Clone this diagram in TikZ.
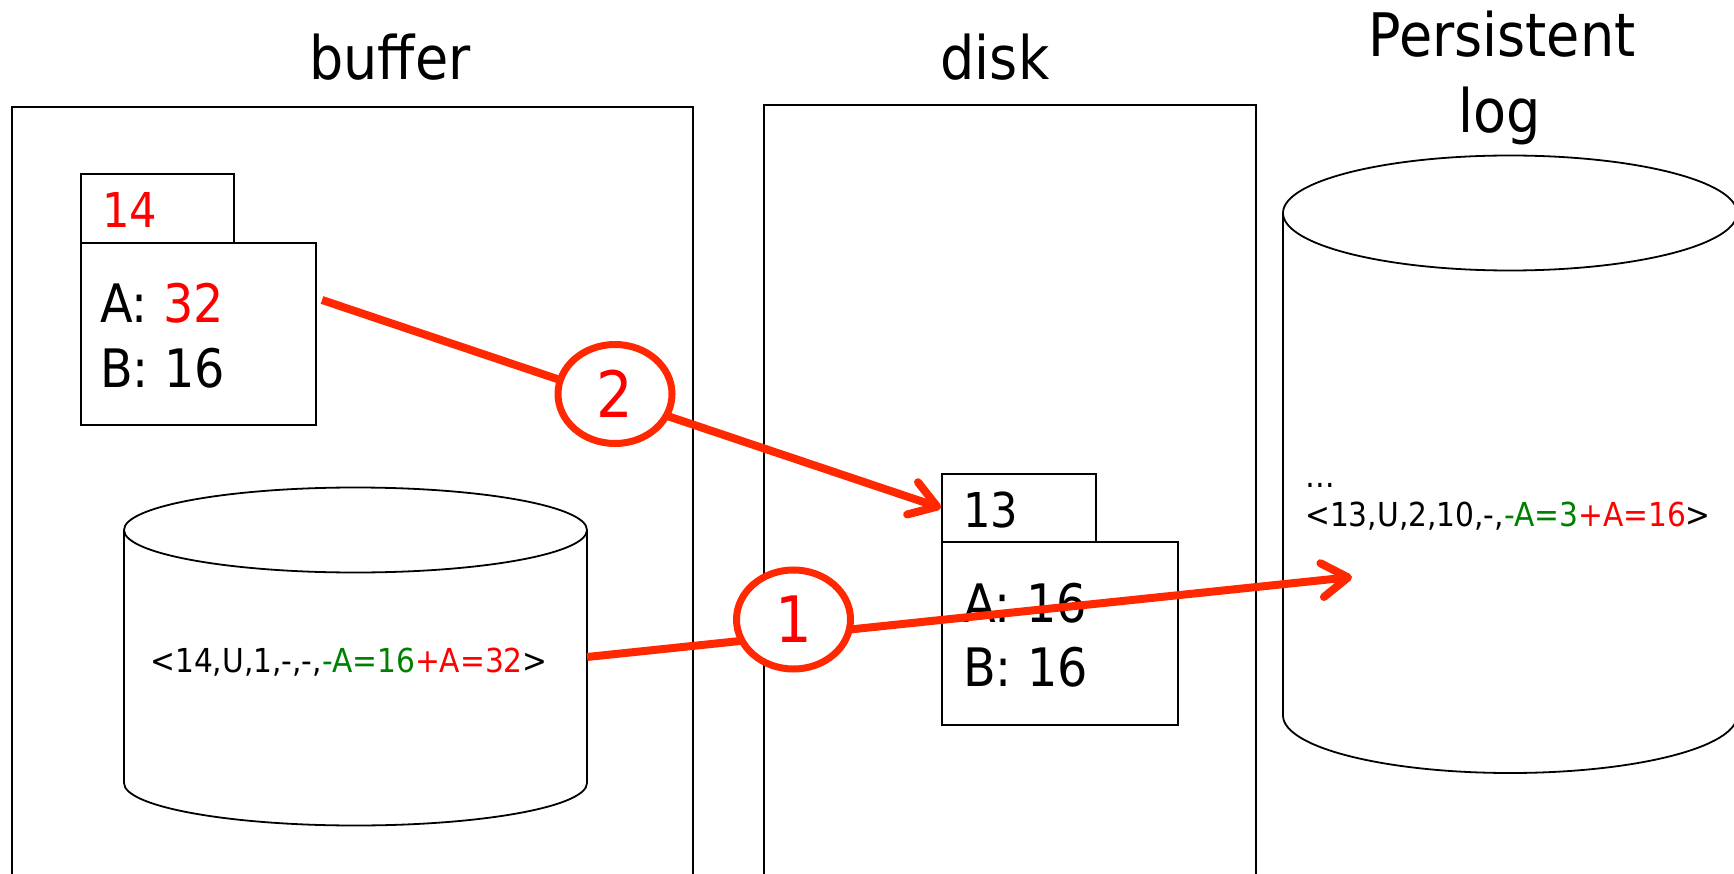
\documentclass[tikz,border=0pt]{standalone}
\usepackage{fontspec}
\setmainfont{DejaVu Sans Condensed}
\usetikzlibrary{arrows.meta,shapes.geometric}
\definecolor{arrowred}{RGB}{255,40,0}
\definecolor{txtred}{RGB}{255,0,0}
\definecolor{txtgreen}{RGB}{0,128,0}
\begin{document}
\begin{tikzpicture}[x=1pt,y=-1pt,
  box/.style={draw=black, line width=1.8pt, anchor=north west, inner sep=0pt},
  title/.style={font=\fontsize{60}{72}\selectfont, anchor=base, inner sep=0pt},
  val/.style={font=\fontsize{53}{64}\selectfont, anchor=base west, inner sep=0pt},
  tabtxt/.style={font=\fontsize{48}{58}\selectfont, anchor=base west, inner sep=0pt},
  logtxt/.style={font=\fontsize{33}{40}\selectfont, anchor=base west, inner sep=0pt},
  cyl/.style={draw=black, line width=1.8pt},
  flow/.style={draw=arrowred, line width=8pt, -{Straight Barb[length=26pt,width=34pt,round]}},
  stepmark/.style={ellipse, draw=arrowred, line width=7pt, fill=white, minimum width=114pt, minimum height=99pt, inner sep=0pt, text=txtred, font=\fontsize{64}{70}\selectfont}
]
\clip (0,0) rectangle (1734,874);
\fill[white] (0,0) rectangle (1734,874);

% titles
\node[title] (tbuf) at (390,80) {buffer};
\node[title] (tdisk) at (995,80) {disk};
\node[title] (tlog1) at (1502,57) {Persistent};
\node[title] (tlog2) at (1500,133) {log};

% containers
\node[box, minimum width=681pt, minimum height=820pt] (bufbox) at (11,106) {};
\node[box, minimum width=492pt, minimum height=820pt] (diskbox) at (763,104) {};

% buffer page 14
\node[box, minimum width=153pt, minimum height=69pt] (tab14) at (80,173) {};
\node[box, minimum width=235pt, minimum height=182pt] (page14) at (80,242) {};
\node[tabtxt, text=txtred] (t14) at (102,228) {14};
\node[val] (a32) at (100,323) {A: \textcolor{txtred}{32}};
\node[val] (b16a) at (100,387) {B: 16};

% disk page 13
\node[box, minimum width=154pt, minimum height=68pt] (tab13) at (941,473) {};
\node[box, minimum width=236pt, minimum height=183pt] (page13) at (941,541) {};
\node[tabtxt] (t13) at (963,527) {13};
\node[val] (a16) at (963,622) {A: 16};
\node[val] (b16b) at (963,686) {B: 16};

% buffer log cylinder
\draw[cyl] (355.5,530) ellipse [x radius=231.5, y radius=42.5];
\draw[cyl] (124,530) -- (124,783) arc[start angle=180, end angle=0, x radius=231.5, y radius=42.5] -- (587,530);
\node[logtxt, anchor=base] (bufrec) at (349,672) {<14,U,1,-,-,\textcolor{txtgreen}{-A=16}\textcolor{txtred}{+A=32}>};

% persistent log cylinder
\draw[cyl] (1510,213) ellipse [x radius=227, y radius=57.5];
\draw[cyl] (1283,213) -- (1283,715.5) arc[start angle=180, end angle=0, x radius=227, y radius=57.5] -- (1737,213);
\node[logtxt] (dots) at (1305,487) {…};
\node[logtxt] (logrec) at (1305,526) {<13,U,2,10,-,\textcolor{txtgreen}{-A=3}\textcolor{txtred}{+A=16}>};

% connectors
\coordinate (bcylE) at (587,657);
\coordinate (login) at (1352,577);
\coordinate (page14E) at (322,300);
\draw[flow] (page14E) -- (tab13.west);
\draw[flow] (bcylE) -- (login);

\node[stepmark] (c2) at (615,394) {2};
\node[stepmark] (c1) at (793.5,619.5) {1};
\end{tikzpicture}
\end{document}
